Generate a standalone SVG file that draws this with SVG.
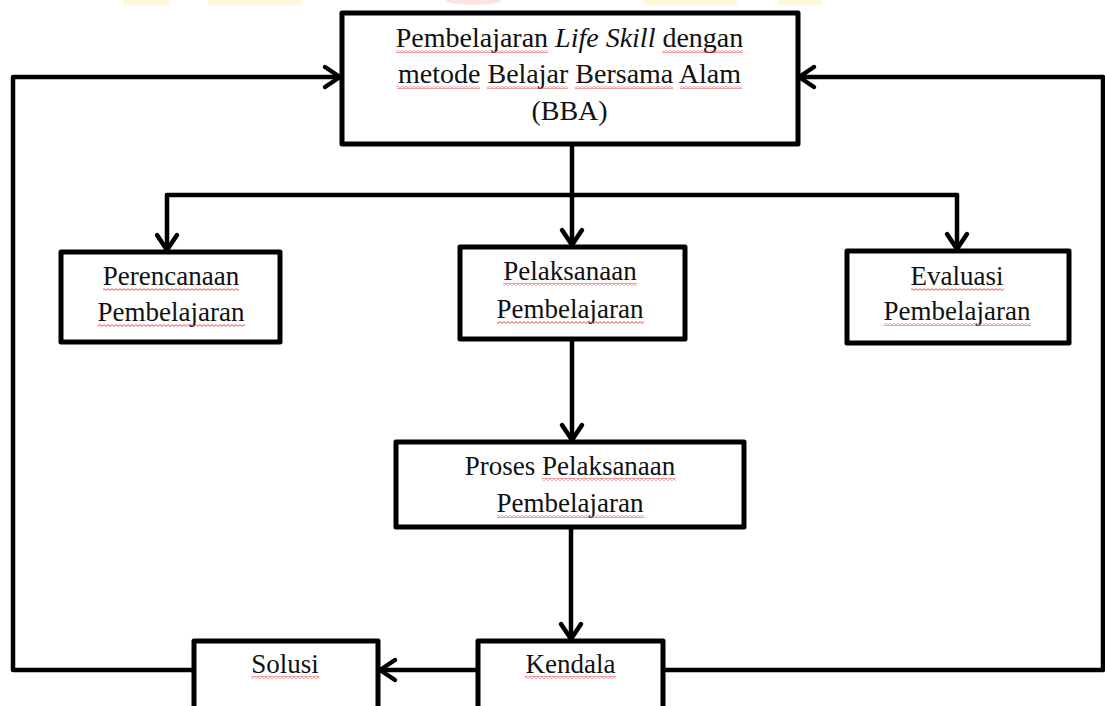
<svg xmlns="http://www.w3.org/2000/svg" width="1105" height="706" viewBox="0 0 1105 706">
  <defs>
    <style>
      .box { fill: #ffffff; stroke: #000000; stroke-width: 5; stroke-linejoin: round; }
      .lbl { font-family: "Liberation Serif", "Times New Roman", serif; fill: #111111; text-anchor: middle; }
      .big { font-size: 28px; }
      .sm { font-size: 27px; }
      .wire { fill: none; stroke: #000000; stroke-width: 4.5; stroke-linejoin: round; stroke-linecap: round; }
      .wavy { fill: url(#wave); }
    </style>
    <marker id="arr" markerUnits="userSpaceOnUse" markerWidth="30" markerHeight="30" viewBox="-20 -15 25 30" refX="0" refY="0" orient="auto">
      <path d="M-15,-10 L0,0 L-15,10" fill="none" stroke="#000000" stroke-width="4.5" stroke-linecap="round" stroke-linejoin="round"/>
    </marker>
    <!-- red squiggle used under words -->
    <pattern id="wave" patternUnits="userSpaceOnUse" width="4" height="3">
      <path d="M0,0.6 L2,2.4 L4,0.6" fill="none" stroke="#e23b3b" stroke-width="0.9"/>
    </pattern>
  </defs>

  <rect width="1105" height="706" fill="#ffffff"/>

  <!-- faint header marks along the top edge -->
  <g id="header-marks">
    <rect x="123" y="0" width="46" height="5" fill="#fff6dc"/>
    <rect x="208" y="0" width="94" height="5" fill="#fff6dc"/>
    <ellipse cx="474" cy="0" rx="28" ry="5" fill="#fde4e4"/>
    <rect x="644" y="0" width="93" height="5" fill="#fff6dc"/>
    <rect x="778" y="0" width="44" height="5" fill="#fff6dc"/>
  </g>

  <!-- connectors -->
  <g id="connectors">
    <!-- trunk from main box to the three stages -->
    <path class="wire" d="M572,146 L572,245" marker-end="url(#arr)"/>
    <path class="wire" d="M167,195 L957,195"/>
    <path class="wire" d="M167,195 L167,250" marker-end="url(#arr)"/>
    <path class="wire" d="M957,195 L957,249" marker-end="url(#arr)"/>
    <!-- implementation chain -->
    <path class="wire" d="M572,341 L572,440" marker-end="url(#arr)"/>
    <path class="wire" d="M571,529 L571,639" marker-end="url(#arr)"/>
    <path class="wire" d="M476,670 L380,670" marker-end="url(#arr)"/>
    <!-- feedback loops back to the main box -->
    <path class="wire" d="M192,670 L13,670 L13,77 L340,77" marker-end="url(#arr)"/>
    <path class="wire" d="M665,670 L1103,670 L1103,77 L799,77" marker-end="url(#arr)"/>
  </g>

  <g id="node-main">
    <rect class="box" x="342" y="13" width="456" height="131"/>
    <text class="lbl big" x="569.5" y="47">Pembelajaran <tspan font-style="italic">Life Skill</tspan> dengan</text>
    <text class="lbl big" x="569.5" y="83">metode Belajar Bersama Alam</text>
    <text class="lbl big" x="569.5" y="120">(BBA)</text>
    <rect class="wavy" x="396" y="50" width="152" height="3"/>
    <rect class="wavy" x="662" y="50" width="81" height="3"/>
    <rect class="wavy" x="397" y="86" width="83" height="3"/>
    <rect class="wavy" x="487" y="86" width="81" height="3"/>
    <rect class="wavy" x="575" y="86" width="98" height="3"/>
    <rect class="wavy" x="680" y="86" width="62" height="3"/>
  </g>

  <g id="node-perencanaan">
    <rect class="box" x="61" y="252" width="219" height="90"/>
    <text class="lbl sm" x="171" y="285">Perencanaan</text>
    <text class="lbl sm" x="171" y="321">Pembelajaran</text>
    <rect class="wavy" x="103" y="288" width="136" height="3"/>
    <rect class="wavy" x="98" y="324" width="147" height="3"/>
  </g>

  <g id="node-pelaksanaan">
    <rect class="box" x="460" y="247" width="225" height="92"/>
    <text class="lbl sm" x="570" y="280">Pelaksanaan</text>
    <text class="lbl sm" x="570" y="318">Pembelajaran</text>
    <rect class="wavy" x="503" y="283" width="134" height="3"/>
    <rect class="wavy" x="497" y="321" width="147" height="3"/>
  </g>

  <g id="node-evaluasi">
    <rect class="box" x="847" y="251" width="222" height="92"/>
    <text class="lbl sm" x="957" y="285">Evaluasi</text>
    <text class="lbl sm" x="957" y="320">Pembelajaran</text>
    <rect class="wavy" x="911" y="288" width="93" height="3"/>
    <rect class="wavy" x="884" y="323" width="147" height="3"/>
  </g>

  <g id="node-proses">
    <rect class="box" x="396" y="442" width="348" height="85"/>
    <text class="lbl sm" x="570" y="475">Proses Pelaksanaan</text>
    <text class="lbl sm" x="570" y="512">Pembelajaran</text>
    <rect class="wavy" x="542" y="478" width="134" height="3"/>
    <rect class="wavy" x="497" y="515" width="147" height="3"/>
  </g>

  <g id="node-solusi">
    <rect class="box" x="194" y="641" width="184" height="80"/>
    <text class="lbl sm" x="285" y="673">Solusi</text>
    <rect class="wavy" x="251" y="676" width="68" height="3"/>
  </g>

  <g id="node-kendala">
    <rect class="box" x="478" y="641" width="185" height="80"/>
    <text class="lbl sm" x="570.5" y="673">Kendala</text>
    <rect class="wavy" x="525" y="676" width="91" height="3"/>
  </g>
</svg>
